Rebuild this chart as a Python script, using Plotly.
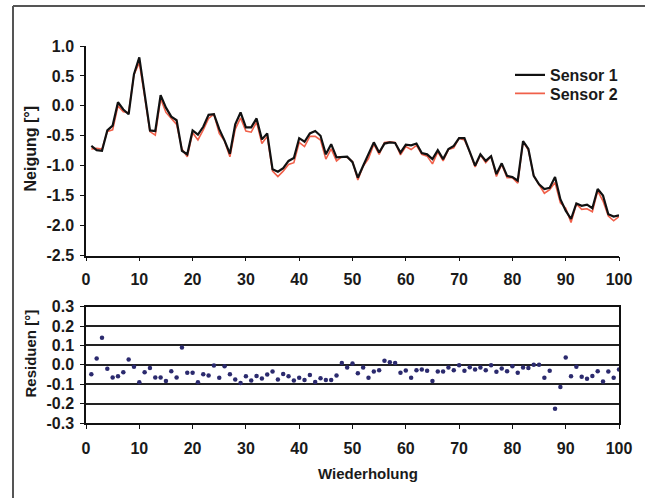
import plotly.graph_objects as go
from plotly.subplots import make_subplots

wiederholung = list(range(1, 101))

sensor1 = [-0.67, -0.74, -0.75, -0.41, -0.33, 0.06, -0.06, -0.14, 0.53, 0.81,
           0.20, -0.41, -0.42, 0.18, -0.03, -0.18, -0.24, -0.75, -0.81, -0.41,
           -0.48, -0.35, -0.15, -0.14, -0.39, -0.58, -0.80, -0.31, -0.11, -0.36,
           -0.36, -0.21, -0.56, -0.46, -1.06, -1.10, -1.04, -0.92, -0.87, -0.54,
           -0.60, -0.46, -0.42, -0.50, -0.81, -0.64, -0.86, -0.86, -0.85, -0.94,
           -1.20, -1.00, -0.81, -0.61, -0.78, -0.63, -0.61, -0.62, -0.78, -0.65,
           -0.66, -0.63, -0.79, -0.81, -0.89, -0.74, -0.89, -0.72, -0.67, -0.54,
           -0.54, -0.76, -1.00, -0.81, -0.92, -0.84, -1.14, -0.96, -1.17, -1.19,
           -1.25, -0.59, -0.72, -1.17, -1.31, -1.39, -1.37, -1.19, -1.56, -1.75,
           -1.89, -1.63, -1.67, -1.65, -1.71, -1.39, -1.50, -1.81, -1.85, -1.83]

sensor2 = [-0.72, -0.71, -0.72, -0.43, -0.40, 0.00, -0.10, -0.11, 0.52, 0.72,
           0.16, -0.43, -0.49, 0.12, -0.11, -0.21, -0.31, -0.72, -0.85, -0.45,
           -0.57, -0.40, -0.21, -0.14, -0.46, -0.59, -0.85, -0.39, -0.20, -0.42,
           -0.44, -0.27, -0.63, -0.51, -1.09, -1.18, -1.09, -0.98, -0.95, -0.61,
           -0.68, -0.51, -0.51, -0.57, -0.89, -0.72, -0.92, -0.85, -0.86, -0.93,
           -1.24, -1.01, -0.88, -0.64, -0.81, -0.61, -0.60, -0.61, -0.82, -0.68,
           -0.73, -0.66, -0.81, -0.84, -0.97, -0.77, -0.92, -0.73, -0.70, -0.54,
           -0.57, -0.77, -1.02, -0.82, -0.95, -0.84, -1.18, -0.98, -1.20, -1.20,
           -1.29, -0.60, -0.74, -1.17, -1.31, -1.46, -1.40, -1.28, -1.62, -1.71,
           -1.95, -1.64, -1.73, -1.72, -1.77, -1.42, -1.59, -1.84, -1.92, -1.85]

residuen = [-0.048, 0.033, 0.140, -0.020, -0.065, -0.059, -0.038, 0.028, -0.010, -0.090,
            -0.038, -0.016, -0.065, -0.065, -0.083, -0.033, -0.065, 0.090, -0.041, -0.041,
            -0.090, -0.048, -0.055, -0.003, -0.066, -0.007, -0.048, -0.076, -0.093, -0.059,
            -0.081, -0.057, -0.071, -0.050, -0.034, -0.076, -0.047, -0.059, -0.081, -0.066,
            -0.078, -0.052, -0.088, -0.069, -0.078, -0.078, -0.055, 0.009, -0.014, 0.007,
            -0.043, -0.014, -0.067, -0.034, -0.028, 0.021, 0.014, 0.009, -0.041, -0.029,
            -0.066, -0.028, -0.024, -0.031, -0.083, -0.034, -0.034, -0.014, -0.028, -0.002,
            -0.031, -0.012, -0.024, -0.014, -0.028, -0.002, -0.036, -0.019, -0.033, -0.007,
            -0.041, -0.014, -0.016, 0.000, 0.000, -0.066, -0.031, -0.226, -0.114, 0.038,
            -0.059, -0.010, -0.062, -0.072, -0.057, -0.033, -0.086, -0.034, -0.066, -0.024]

x_ticks = [0, 10, 20, 30, 40, 50, 60, 70, 80, 90, 100]
top_yticks = [1.0, 0.5, 0.0, -0.5, -1.0, -1.5, -2.0, -2.5]
top_ytext = ["1.0", "0.5", "0.0", "-0.5", "-1.0", "-1.5", "-2.0", "-2.5"]
bot_yticks = [0.3, 0.2, 0.1, 0.0, -0.1, -0.2, -0.3]
bot_ytext = ["0.3", "0.2", "0.1", "0.0", "-0.1", "-0.2", "-0.3"]

FONT = "Liberation Sans, Arial, sans-serif"
INK = "#1a1a1a"

fig = make_subplots(rows=2, cols=1, shared_xaxes=False, vertical_spacing=0.0)

fig.add_trace(go.Scatter(x=wiederholung, y=sensor2, mode="lines", name="<b>Sensor 2</b>",
                         line=dict(color="#f0604a", width=1.6), legend="legend2"), row=1, col=1)
fig.add_trace(go.Scatter(x=wiederholung, y=sensor1, mode="lines", name="<b>Sensor 1</b>",
                         line=dict(color="#111111", width=2.2), legend="legend"), row=1, col=1)
fig.add_trace(go.Scatter(x=wiederholung, y=residuen, mode="markers", showlegend=False,
                         marker=dict(color="#2b2a6e", size=4.5)), row=2, col=1)

W, H = 645, 498
ML, MR, MT, MB = 86, 26, 46, 75
PW = W - ML - MR
PH = H - MT - MB

def ypaper(py):
    return (H - MB - py) / PH

def xpaper(px):
    return (px - ML) / PW

tickfont = dict(family=FONT, size=16, color=INK, weight="bold")

axis_common = dict(range=[0, 100], tickvals=x_ticks, showgrid=False, zeroline=False,
                   showline=True, linecolor="#111111", linewidth=1.5,
                   ticks="outside", ticklen=4, tickcolor="#111111", tickwidth=1.2,
                   tickfont=tickfont)

legend_common = dict(xanchor="left", yanchor="top", bgcolor="rgba(0,0,0,0)", borderwidth=0,
                     font=dict(family=FONT, size=16, color=INK), itemwidth=30)

fig.update_layout(
    width=W, height=H,
    margin=dict(l=ML, r=MR, t=MT, b=MB),
    paper_bgcolor="white", plot_bgcolor="white",
    font=dict(family=FONT, size=16, color=INK),
    xaxis=dict(domain=[0, 1], anchor="y", ticklabelstandoff=5, **axis_common),
    yaxis=dict(domain=[ypaper(255.5), 1], anchor="x", range=[-2.5, 1.0],
               tickvals=top_yticks, ticktext=top_ytext, showgrid=False, zeroline=False,
               showline=True, linecolor="#111111", linewidth=1.5,
               ticks="outside", ticklen=4, tickcolor="#111111", tickwidth=1.2,
               ticklabelstandoff=3, tickfont=tickfont),
    xaxis2=dict(domain=[0, 1], anchor="y2", mirror=True, ticklabelstandoff=6, **axis_common),
    yaxis2=dict(domain=[0, ypaper(306.7)], anchor="x2", range=[-0.3, 0.3],
                tickvals=bot_yticks, ticktext=bot_ytext, showgrid=True,
                gridcolor="#222222", gridwidth=1.5, zeroline=False,
                showline=True, mirror=True, linecolor="#111111", linewidth=1.5,
                ticks="outside", ticklen=4, tickcolor="#111111", tickwidth=1.2,
                ticklabelstandoff=3, tickfont=tickfont),
    showlegend=True,
    legend=dict(x=xpaper(510), y=ypaper(58), **legend_common),
    legend2=dict(x=xpaper(510), y=ypaper(76.5), **legend_common),
    shapes=[
        dict(type="line", xref="paper", yref="paper",
             x0=xpaper(13), x1=xpaper(13), y0=ypaper(6), y1=ypaper(520),
             line=dict(color="#555555", width=2)),
        dict(type="line", xref="paper", yref="paper",
             x0=xpaper(13), x1=xpaper(700), y0=ypaper(6), y1=ypaper(6),
             line=dict(color="#555555", width=2)),
    ],
    annotations=[
        dict(text="<b>Neigung [°]</b>", xref="paper", yref="paper", x=xpaper(29.5), y=ypaper(149),
             textangle=-90, showarrow=False, xanchor="center", yanchor="middle",
             font=dict(family=FONT, size=16, color=INK)),
        dict(text="<b>Residuen [°]</b>", xref="paper", yref="paper", x=xpaper(29.5), y=ypaper(354),
             textangle=-90, showarrow=False, xanchor="center", yanchor="middle",
             font=dict(family=FONT, size=15, color=INK)),
        dict(text="<b>Wiederholung</b>", xref="paper", yref="paper", x=xpaper(368), y=ypaper(473),
             showarrow=False, xanchor="center", yanchor="middle",
             font=dict(family=FONT, size=15, color=INK)),
    ],
)

fig.write_html("out.html")
